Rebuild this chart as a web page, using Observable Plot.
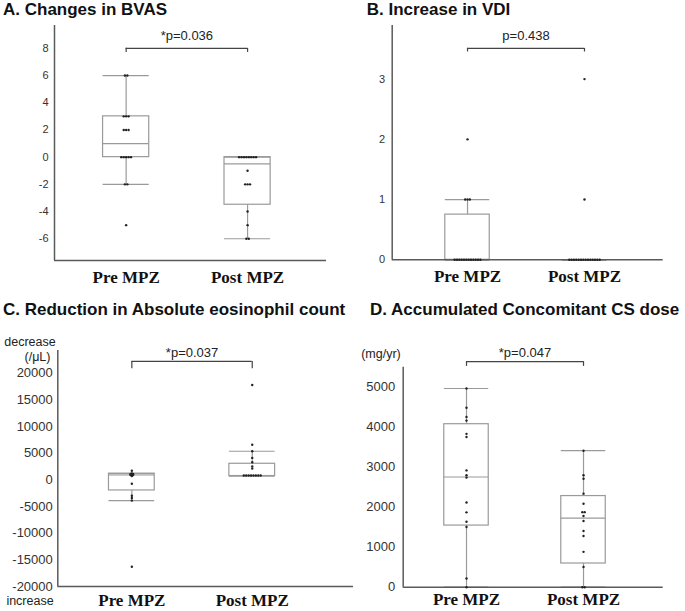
<!DOCTYPE html>
<html><head><meta charset="utf-8">
<script src="https://cdn.jsdelivr.net/npm/d3@7"></script>
<script src="https://cdn.jsdelivr.net/npm/@observablehq/plot@0.6"></script>
<style>
body{margin:0;background:#fff}
#root{position:relative;width:685px;height:611px;overflow:hidden;background:#fff}
#root svg{position:absolute;max-width:none}
</style></head><body><div id="root"></div>
<script>
const groups = ["Pre MPZ", "Post MPZ"];

// A. Changes in BVAS
const bvasStats = [
  {g: 1, min: -2, q1: 0, med: 1, q3: 3, max: 6},
  {g: 2, min: -6, q1: -3.5, med: -0.5, q3: 0, max: 0}
];
const bvasPre = [6, 6, 3, 3, 3, 2, 2, 2, 0, 0, 0, 0, 0, -2, -2, -5];
const bvasPost = [0, 0, 0, 0, 0, 0, 0, 0, -1, -2, -2, -2, -4, -5, -6, -6];
const bvasTicks = [-6, -4, -2, 0, 2, 4, 6, 8];

// B. Increase in VDI
const vdiStats = [
  {g: 1, min: 0, q1: 0, med: 0, q3: 0.75, max: 1},
  {g: 2, min: 0, q1: 0, med: 0, q3: 0, max: 0}
];
const vdiPre = [2, 1, 1, 1, 0, 0, 0, 0, 0, 0, 0, 0, 0, 0, 0, 0];
const vdiPost = [3, 1, 0, 0, 0, 0, 0, 0, 0, 0, 0, 0, 0, 0, 0, 0];
const vdiTicks = [0, 1, 2, 3];

// C. Reduction in Absolute eosinophil count
const eosStats = [
  {g: 1, min: -3900, q1: -2000, med: 900, q3: 1150, max: 1150},
  {g: 2, min: 700, q1: 700, med: 800, q3: 3000, max: 5350}
];
const eosPre = [1700, 1200, 1100, 1100, 1000, 1000, 900, 900, 800, 700, -750, -3000, -3400, -3900, -16300];
const eosPost = [17760, 6580, 5350, 4100, 3300, 2500, 2100, 800, 800, 800, 800, 800, 800, 800, 800];
const eosTicks = [-20000, -15000, -10000, -5000, 0, 5000, 10000, 15000, 20000];

// D. Accumulated Concomitant CS dose
const csStats = [
  {g: 1, min: 0, q1: 1535, med: 2745, q3: 4060, max: 4950},
  {g: 2, min: 0, q1: 590, med: 1720, q3: 2270, max: 3400}
];
const csPre = [4950, 4470, 4240, 4150, 3820, 3740, 2910, 2790, 2730, 2110, 1865, 1630, 1500, 215, 0];
const csPost = [3400, 2790, 2700, 2330, 2080, 1870, 1870, 1775, 1650, 1400, 1275, 880, 505, 0, 0];
const csTicks = [0, 1000, 2000, 3000, 4000, 5000];

// significance brackets
const brackets = [
  {y: 8, drop: 7.7, label: "*p=0.036"},
  {y: 3.51, drop: 3.45, label: "p=0.438"},
  {y: 22180, drop: 20820, label: "*p=0.037"},
  {y: 5620, drop: 5500, label: "*p=0.047"}
];

const sans = "'Liberation Sans', Arial, sans-serif";
const serif = "'Liberation Serif', 'Times New Roman', serif";

const panels = [
  {left: 0, top: 0, width: 340, height: 300, m: [25, 14, 40, 54], xDomain: [0.41, 2.65], yDomain: [-7.6, 9.68],
   ticks: bvasTicks, stats: bvasStats, pre: bvasPre, post: bvasPost, br: brackets[0], tickFont: 11, yPad: 6, xPad: 10, labelDy: -8},
  {left: 340, top: 0, width: 345, height: 300, m: [25, 22.3, 40.7, 51.7], xDomain: [0.356, 2.673], yDomain: [0, 3.89],
   ticks: vdiTicks, stats: vdiStats, pre: vdiPre, post: vdiPost, br: brackets[1], tickFont: 11, yPad: 7, xPad: 10, labelDy: -8},
  {left: 0, top: 300, width: 360, height: 311, m: [50, 7, 25, 57.3], xDomain: [0.385, 2.841], yDomain: [-20000, 24230],
   ticks: eosTicks, stats: eosStats, pre: eosPre, post: eosPost, br: brackets[2], tickFont: 13, yPad: 5, xPad: 7, labelDy: -4.5},
  {left: 340, top: 300, width: 345, height: 311, m: [66.7, 22.3, 24.3, 62.7], xDomain: [0.459, 2.681], yDomain: [0, 5480],
   ticks: csTicks, stats: csStats, pre: csPre, post: csPost, br: brackets[3], tickFont: 13, yPad: 8, xPad: 6, labelDy: -4.5}
];

function toDots(values, g) {
  const counts = d3.rollup(values, v => v.length, d => d);
  const idx = new Map();
  return values.map(v => {
    const n = counts.get(v), k = idx.get(v) || 0;
    idx.set(v, k + 1);
    return {x: g + (k - (n - 1) / 2) * 0.02, y: v};
  });
}

const root = document.getElementById("root");
const boxGray = "#9a9a9a";
const axisGray = "#5a5a5a";
const hw = 0.19;

for (const p of panels) {
  const pts = [...toDots(p.pre, 1), ...toDots(p.post, 2)];
  const b = p.br;
  const svg = Plot.plot({
    width: p.width, height: p.height,
    marginTop: p.m[0], marginRight: p.m[1], marginBottom: p.m[2], marginLeft: p.m[3],
    style: {background: "transparent", overflow: "visible"},
    x: {domain: p.xDomain, axis: null},
    y: {domain: p.yDomain, axis: null},
    marks: [
      Plot.axisY({ticks: p.ticks, tickSize: 0, tickPadding: p.yPad, tickFormat: d => String(d),
        fontSize: p.tickFont, fontFamily: sans, fill: "#333"}),
      Plot.axisX({ticks: [1, 2], tickSize: 0, tickPadding: p.xPad, tickFormat: i => groups[i - 1],
        fontSize: 17, fontWeight: "bold", fontFamily: serif, fill: "#111"}),
      Plot.ruleX(p.stats, {x: "g", y1: "q3", y2: "max", stroke: boxGray, strokeWidth: 1.2}),
      Plot.ruleX(p.stats, {x: "g", y1: "min", y2: "q1", stroke: boxGray, strokeWidth: 1.2}),
      Plot.ruleY(p.stats, {y: "max", x1: d => d.g - hw, x2: d => d.g + hw, stroke: boxGray, strokeWidth: 1.2}),
      Plot.ruleY(p.stats, {y: "min", x1: d => d.g - hw, x2: d => d.g + hw, stroke: boxGray, strokeWidth: 1.2}),
      Plot.rect(p.stats, {x1: d => d.g - hw, x2: d => d.g + hw, y1: "q1", y2: "q3", fill: "none", stroke: boxGray, strokeWidth: 1.2}),
      Plot.ruleY(p.stats, {y: "med", x1: d => d.g - hw, x2: d => d.g + hw, stroke: boxGray, strokeWidth: 1.2}),
      Plot.ruleX([p.xDomain[0]], {stroke: axisGray, strokeWidth: 1.5}),
      Plot.ruleY([p.yDomain[0]], {stroke: axisGray, strokeWidth: 1.5}),
      Plot.dot(pts, {x: "x", y: "y", r: 1.2, fill: "#222", stroke: null}),
      Plot.ruleY([b], {y: "y", x1: 1, x2: 2, stroke: "#444", strokeWidth: 1.2}),
      Plot.ruleX([1, 2], {x: d => d, y1: b.y, y2: b.drop, stroke: "#444", strokeWidth: 1.2}),
      Plot.text([b], {x: 1.5, y: "y", text: "label", dy: p.labelDy, lineAnchor: "bottom",
        fontSize: 13, fontFamily: sans, fill: "#222"})
    ]
  });
  svg.style.left = p.left + "px";
  svg.style.top = p.top + "px";
  root.appendChild(svg);
}

// titles and unit labels
const titles = [
  {x: 3, y: 15, t: "A. Changes in BVAS"},
  {x: 366.7, y: 15, t: "B. Increase in VDI"},
  {x: 3, y: 315, t: "C. Reduction in Absolute eosinophil count"},
  {x: 370, y: 315, t: "D. Accumulated Concomitant CS dose"}
];
const units = [
  {x: 30, y: 345.5, t: "decrease"},
  {x: 37.5, y: 361, t: "(/μL)"},
  {x: 30, y: 605, t: "increase"},
  {x: 381, y: 358, t: "(mg/yr)"}
];
const ov = d3.select(root).append("svg")
  .attr("width", 685).attr("height", 611)
  .style("left", "0px").style("top", "0px").style("pointer-events", "none");
ov.selectAll("text.title").data(titles).join("text").attr("class", "title")
  .attr("x", d => d.x).attr("y", d => d.y).text(d => d.t)
  .attr("font-family", sans).attr("font-weight", "bold").attr("font-size", 17).attr("fill", "#111");
ov.selectAll("text.unit").data(units).join("text").attr("class", "unit")
  .attr("x", d => d.x).attr("y", d => d.y).text(d => d.t).attr("text-anchor", "middle")
  .attr("font-family", sans).attr("font-size", 12.5).attr("fill", "#222");
</script></body></html>
